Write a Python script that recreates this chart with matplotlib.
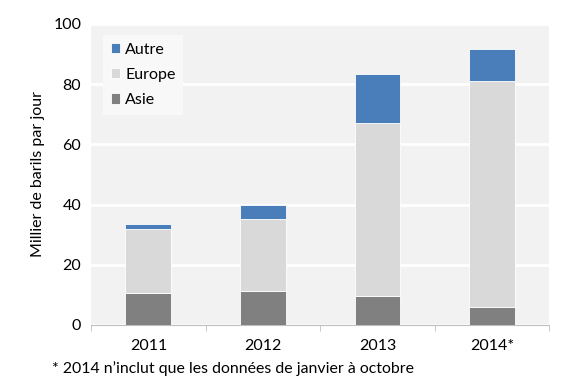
import matplotlib.pyplot as plt
import numpy as np

annees = ['2011', '2012', '2013', '2014*']
asie = [10.6, 11.3, 9.6, 6.0]
europe = [21.2, 23.8, 57.6, 75.1]
autre = [1.9, 4.6, 16.2, 10.6]

plt.rcParams['font.family'] = ['Lato', 'DejaVu Sans']

fig = plt.figure(figsize=(5.8, 3.92), dpi=100)
ax = fig.add_axes([0.157, 0.171, 0.79, 0.768])
ax.set_facecolor('#f2f2f2')

x = np.arange(len(annees))
w = 0.4
ax.bar(x, asie, w, color='#808080', edgecolor='white', linewidth=0.6, label='Asie', zorder=3)
ax.bar(x, europe, w, bottom=asie, color='#d9d9d9', edgecolor='white', linewidth=0.6, label='Europe', zorder=3)
bas = [a + e for a, e in zip(asie, europe)]
ax.bar(x, autre, w, bottom=bas, color='#4a7ebb', edgecolor='white', linewidth=0.6, label='Autre', zorder=3)

ax.set_xlim(-0.5, len(annees) - 0.5)
ax.set_ylim(0, 100)
ax.set_yticks(range(0, 101, 20))
ax.yaxis.grid(True, color='white', linewidth=2, zorder=1)
ax.set_axisbelow(True)

ax.set_xticks(x)
ax.set_xticklabels(annees, fontsize=11.5)
ax.set_xticks(np.arange(-0.5, len(annees), 1), minor=True)
ax.tick_params(axis='x', which='major', length=0, pad=10)
ax.tick_params(axis='x', which='minor', length=4, color='#bfbfbf', direction='out')
ax.tick_params(axis='y', length=0, labelsize=11.5, pad=7)

for s in ['top', 'right', 'left']:
    ax.spines[s].set_visible(False)
ax.spines['bottom'].set_color('#bfbfbf')

ax.set_ylabel('Millier de barils par jour', fontsize=11.5, labelpad=6)

h, l = ax.get_legend_handles_labels()
leg = ax.legend(h[::-1], l[::-1], loc='upper left', bbox_to_anchor=(0.015, 0.98),
                fontsize=11.5, frameon=True, fancybox=False, handlelength=0.6,
                handleheight=0.6, handletextpad=0.3, labelspacing=0.7,
                borderpad=0.5, borderaxespad=0.3)
leg.get_frame().set_facecolor('#f8f8f8')
leg.get_frame().set_edgecolor('none')
leg.get_frame().set_alpha(1)

fig.text(0.09, 0.061, "* 2014 n\u2019inclut que les donn\u00e9es de janvier \u00e0 octobre",
         fontsize=11.4, va='center')

fig.savefig('out.png', dpi=100)
